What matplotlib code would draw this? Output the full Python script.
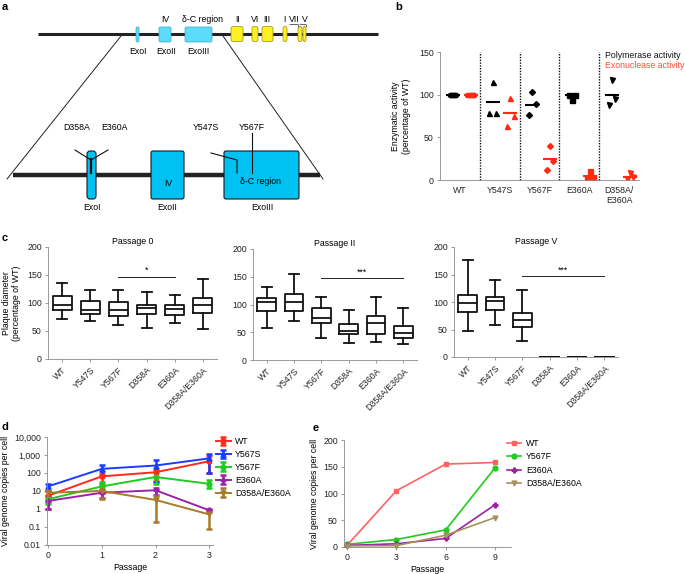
import numpy as np
import matplotlib
matplotlib.use('Agg')
import matplotlib.pyplot as plt
from matplotlib.patches import FancyBboxPatch

plt.rcParams['font.family'] = ['Liberation Sans', 'DejaVu Sans']
plt.rcParams['font.size'] = 6.3

W, H = 685, 574
FS = 6.3
GREY = '#8a8a8a'

# ---- panel b data
b_groups = ['WT', 'Y547S', 'Y567F', 'E360A', 'D358A/\nE360A']
b_markers = ['o', '^', 'D', 's', 'v']
pol_vals = [[100, 100, 100], [78, 115, 78], [76, 103, 89], [100, 94, 100], [88, 117, 95]]
exo_vals = [[100, 100, 100], [63, 96, 75], [12, 40, 22], [2, 10, 2], [1, 8, 3]]
pol_mean = [100, 91, 88, 100, 100]
exo_mean = [100, 79, 25, 5, 3]

# ---- panel c data (whisker low, q1, median, q3, whisker high)
c_labels = ['WT', 'Y547S', 'Y567F', 'D358A', 'E360A', 'D358A/E360A']
c_titles = ['Passage 0', 'Passage II', 'Passage V']
p0_lo = [72, 68, 61, 56, 64, 53]
p0_q1 = [87, 81, 76, 81, 78, 83]
p0_med = [97, 88, 88, 91, 89, 97]
p0_q3 = [113, 103, 102, 97, 96, 109]
p0_hi = [135, 124, 123, 119, 115, 143]
p2_lo = [57, 71, 39, 31, 33, 28]
p2_q1 = [88, 88, 66, 46, 47, 40]
p2_med = [105, 105, 76, 53, 66, 49]
p2_q3 = [111, 119, 93, 65, 79, 62]
p2_hi = [131, 155, 113, 90, 113, 94]
p5_lo = [47, 58, 30, 0, 0, 0]
p5_q1 = [82, 85, 54, 0, 0, 0]
p5_med = [98, 102, 68, 0, 0, 0]
p5_q3 = [113, 110, 80, 0, 0, 0]
p5_hi = [176, 140, 122, 0, 0, 0]
c_sig = ['*', '***', '***']
c_sig_span = [(2, 4), (2, 5), (2, 5)]

# ---- panel d data
d_x = [0, 1, 2, 3]
d_names = ['WT', 'Y567S', 'Y567F', 'E360A', 'D358A/E360A']
d_colors = ['#ff2a1a', '#1a3cff', '#1fcc1f', '#9b22a8', '#a87a2a']
d_markers = ['s', '^', 'o', 'P', 'v']
d_wt = [5.5, 65, 110, 450]
d_wt_lo = [1, 25, 35, 100]
d_wt_hi = [12, 120, 160, 900]
d_s = [18, 170, 260, 650]
d_s_lo = [10, 80, 30, 100]
d_s_hi = [25, 270, 500, 1200]
d_f = [3.5, 18, 60, 25]
d_f_lo = [2, 10, 25, 15]
d_f_hi = [5, 30, 110, 40]
d_e = [2.8, 8, 11, 0.85]
d_e_lo = [1, 4, 6, 0.7]
d_e_hi = [5, 12, 14, 1.0]
d_de = [8, 10, 3.2, 0.5]
d_de_lo = [2.5, 3.5, 0.2, 0.08]
d_de_hi = [12, 13, 5.5, 0.9]

# ---- panel e data
e_x = [0, 3, 6, 9]
e_names = ['WT', 'Y567F', 'E360A', 'D358A/E360A']
e_colors = ['#ff6262', '#1fcc1f', '#9b22a8', '#a8915a']
e_markers = ['s', 'o', 'P', 'v']
e_wt = [3, 105, 155, 158]
e_f = [5, 14, 32, 148]
e_e = [3, 6, 16, 79]
e_de = [2, 2.5, 22, 55]


def px_axes(fig, x0, y0, x1, y1):
    return fig.add_axes([x0 / W, 1 - y1 / H, (x1 - x0) / W, (y1 - y0) / H])


def style(ax):
    for s in ['top', 'right']:
        ax.spines[s].set_visible(False)
    for s in ['left', 'bottom']:
        ax.spines[s].set_color(GREY)
        ax.spines[s].set_linewidth(0.6)
    ax.tick_params(labelsize=FS, colors=GREY, labelcolor='#222222', length=2.5, width=0.6, pad=2)


fig = plt.figure(figsize=(W / 100, H / 100), dpi=100)

# panel labels
for lab, x, y in [('a', 2, 7), ('b', 395, 7), ('c', 2, 238), ('d', 2, 427), ('e', 313, 428)]:
    fig.text(x / W, 1 - y / H, lab, fontsize=8, fontweight='bold', va='center', ha='left')

# ================= panel a (schematic)
ax = px_axes(fig, 0, 0, 395, 225)
ax.set_xlim(0, 395)
ax.set_ylim(225, 0)
ax.axis('off')

ax.plot([38, 378], [34, 34], color='#222222', lw=2.2, solid_capstyle='butt', zorder=1)
top_exo = [(136, 139), (159, 171), (185, 212)]
for x0, x1 in top_exo:
    ax.add_patch(FancyBboxPatch((x0, 27), x1 - x0, 15, boxstyle='round,pad=0,rounding_size=1.5',
                                fc='#5cdcfa', ec='#3aa8c8', lw=0.5, zorder=2))
top_pol = [(231, 243), (252, 258), (262, 273), (283, 287), (298, 302), (303, 306)]
for x0, x1 in top_pol:
    ax.add_patch(FancyBboxPatch((x0, 26.5), x1 - x0, 15, boxstyle='round,pad=0,rounding_size=2',
                                fc='#fff022', ec='#9a8a10', lw=0.5, zorder=2))
for t, x in [('IV', 165), ('\u03b4-C region', 202), ('II', 238), ('VI', 255), ('III', 267),
             ('I', 284), ('VII', 294), ('V', 305)]:
    ax.text(x, 20, t, ha='center', va='center', fontsize=FS)
ax.plot([290, 298, 299], [24.5, 24.5, 27], color='#222222', lw=0.5)
ax.plot([300, 306, 307], [24.5, 24.5, 27], color='#222222', lw=0.5)
for t, x in [('ExoI', 138), ('ExoII', 166), ('ExoIII', 198)]:
    ax.text(x, 52, t, ha='center', va='center', fontsize=FS)

ax.plot([121, 7], [36, 179], color='#222222', lw=0.7)
ax.plot([223, 323], [36, 179], color='#222222', lw=0.7)
ax.plot([13, 320], [175, 175], color='#222222', lw=3.2, solid_capstyle='butt', zorder=1)
bot_exo = [(87, 96, 3), (151, 184, 2), (224, 299, 2)]
for x0, x1, r in bot_exo:
    ax.add_patch(FancyBboxPatch((x0, 151), x1 - x0, 48, boxstyle='round,pad=0,rounding_size=%d' % r,
                                fc='#00c2f2', ec='#1a1a1a', lw=0.8, zorder=2))
ax.text(168, 183, 'IV', ha='center', va='center', fontsize=FS)
ax.text(260, 182, '\u03b4-C region', ha='center', va='center', fontsize=FS)
for t, x in [('ExoI', 92), ('ExoII', 167), ('ExoIII', 262)]:
    ax.text(x, 207, t, ha='center', va='center', fontsize=FS)
for t, x in [('D358A', 77), ('E360A', 115), ('Y547S', 206), ('Y567F', 252)]:
    ax.text(x, 128, t, ha='center', va='center', fontsize=FS)
ax.plot([75, 91, 108], [150, 160, 150], color='#111111', lw=0.8, zorder=3)
ax.plot([91, 91], [159, 173], color='#111111', lw=1.6, zorder=3)
ax.plot([211, 237, 237], [153, 160, 173], color='#111111', lw=0.8, zorder=3)
ax.plot([252, 252], [133, 173], color='#111111', lw=0.8, zorder=3)

# ================= panel b
ax = px_axes(fig, 440, 52, 639, 180)
style(ax)
ax.set_xlim(-0.5, 4.5)
ax.set_ylim(0, 150)
ax.set_yticks([0, 50, 100, 150])
ax.set_xticks(range(5))
ax.set_xticklabels(b_groups)
ax.tick_params(axis='x', length=0, pad=4)
for k in range(4):
    ax.plot([k + 0.5, k + 0.5], [0, 150], color='#111111', lw=1.0, ls=(0, (1, 1)), clip_on=False)
jit = [-0.08, 0.0, 0.08]
for i in range(5):
    m = b_markers[i]
    ms = 3.6 if m in ('^', 'v', 's') else 3.0
    if i == 0:
        pj = np.linspace(-0.08, 0.08, 7)
        ax.plot(i - 0.18 + pj, [pol_vals[i][0]] * 7, ls='none', marker=m, ms=ms, color='black')
        ax.plot(i + 0.27 + pj, [exo_vals[i][0]] * 7, ls='none', marker=m, ms=ms, color='#ff2a10')
    else:
        ax.plot([i - 0.18 + j for j in jit], pol_vals[i], ls='none', marker=m, ms=ms, color='black')
        ax.plot([i + 0.27 + j for j in jit], exo_vals[i], ls='none', marker=m, ms=ms, color='#ff2a10')
    ax.plot([i - 0.33, i - 0.03], [pol_mean[i]] * 2, color='black', lw=1.5)
    ax.plot([i + 0.12, i + 0.42], [exo_mean[i]] * 2, color='#ff2a10', lw=1.5)
ax.set_ylabel('Enzymatic activity\n(percentage of WT)', fontsize=FS, labelpad=6)
fig.text(605 / W, 1 - 55 / H, 'Polymerase activity', fontsize=FS, va='center', color='#111111')
fig.text(605 / W, 1 - 66 / H, 'Exonuclease activity', fontsize=FS, va='center', color='#ff4a3a')

# ================= panel c
c_data = [
    (p0_lo, p0_q1, p0_med, p0_q3, p0_hi),
    (p2_lo, p2_q1, p2_med, p2_q3, p2_hi),
    (p5_lo, p5_q1, p5_med, p5_q3, p5_hi),
]
c_boxes = [(48, 247, 217, 359), (253, 249, 417, 360), (454, 247, 618, 357)]
for k in range(3):
    x0, y0, x1, y1 = c_boxes[k]
    ax = px_axes(fig, x0, y0, x1, y1)
    style(ax)
    lo, q1, med, q3, hi = c_data[k]
    stats = [dict(whislo=lo[i], q1=q1[i], med=med[i], q3=q3[i], whishi=hi[i], fliers=[])
             for i in range(6)]
    lp = dict(color='#111111', linewidth=1.3)
    ax.bxp(stats, positions=range(6), widths=0.68, capwidths=0.36, showfliers=False,
           boxprops=lp, medianprops=lp, whiskerprops=lp, capprops=lp)
    ax.set_xlim(-0.5, 5.5)
    ax.set_ylim(0, 200)
    ax.set_yticks([0, 50, 100, 150, 200])
    ax.set_xticks(range(6))
    ax.set_xticklabels(c_labels, rotation=45, ha='right', rotation_mode='anchor')
    ax.set_title(c_titles[k], fontsize=FS, pad=2)
    s0, s1 = c_sig_span[k]
    ax.plot([s0, s1], [147, 147], color='#222222', lw=0.7)
    ax.text((s0 + s1) / 2, 150, c_sig[k], ha='center', va='bottom', fontsize=FS)
    if k == 0:
        ax.set_ylabel('Plaque diameter\n(percentage of WT)', fontsize=FS, labelpad=4)

# ================= panel d
ax = px_axes(fig, 47, 437, 213, 545)
style(ax)
ax.set_yscale('log')
d_series = [(d_wt, d_wt_lo, d_wt_hi), (d_s, d_s_lo, d_s_hi), (d_f, d_f_lo, d_f_hi),
            (d_e, d_e_lo, d_e_hi), (d_de, d_de_lo, d_de_hi)]
for i, (v, lo, hi) in enumerate(d_series):
    v = np.array(v)
    err = [v - np.array(lo), np.array(hi) - v]
    ax.errorbar(d_x, v, yerr=err, color=d_colors[i], marker=d_markers[i], ms=3.5, lw=1.4,
                elinewidth=1.8, capsize=2.5, capthick=1.8, label=d_names[i], clip_on=False)
ax.set_ylim(0.01, 10000)
ax.set_xlim(-0.02, 3.07)
ax.set_yticks([0.01, 0.1, 1, 10, 100, 1000, 10000])
ax.set_yticklabels(['0.01', '0.1', '1', '10', '100', '1,000', '10,000'])
ax.minorticks_off()
ax.set_xticks(d_x)
ax.set_xlabel('Passage', fontsize=FS, labelpad=2)
ax.set_ylabel('Viral genome copies per cell', fontsize=FS, labelpad=3)
ax.legend(loc='upper left', bbox_to_anchor=(216 / W, 1 - 437 / H), bbox_transform=fig.transFigure,
          frameon=False, fontsize=FS, handlelength=1.7, handletextpad=0.5, labelspacing=0.45,
          borderaxespad=0, borderpad=0)

# ================= panel e
ax = px_axes(fig, 344, 440, 511, 547)
style(ax)
for i, v in enumerate([e_wt, e_f, e_e, e_de]):
    ax.plot(e_x, v, color=e_colors[i], marker=e_markers[i], ms=3.5, lw=1.2, label=e_names[i],
            clip_on=False)
ax.set_ylim(0, 200)
ax.set_xlim(-0.18, 9.97)
ax.set_yticks([0, 50, 100, 150, 200])
ax.set_xticks(e_x)
ax.set_xlabel('Passage', fontsize=FS, labelpad=2)
ax.set_ylabel('Viral genome copies per cell', fontsize=FS, labelpad=3)
ax.legend(loc='upper left', bbox_to_anchor=(507 / W, 1 - 439 / H), bbox_transform=fig.transFigure,
          frameon=False, fontsize=FS, handlelength=1.6, handletextpad=0.6, labelspacing=0.5,
          borderaxespad=0, borderpad=0)

fig.savefig('out.png', dpi=100)
